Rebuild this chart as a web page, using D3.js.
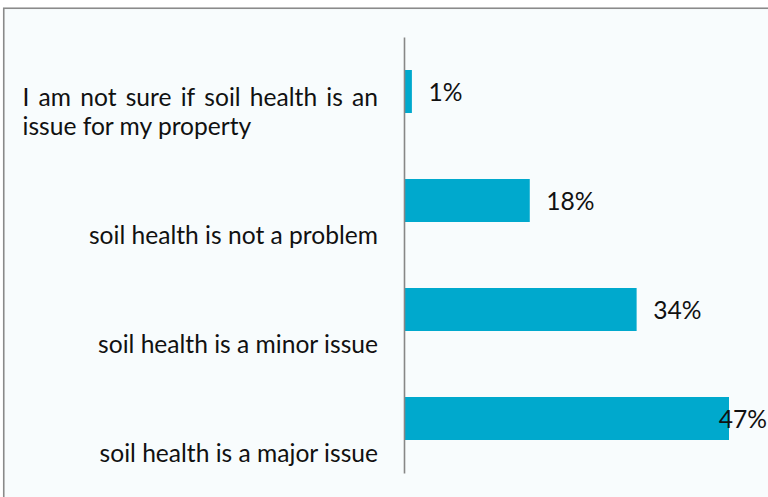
<!DOCTYPE html>
<html>
<head>
<meta charset="utf-8">
<script src="https://cdn.jsdelivr.net/npm/d3@7"></script>
<style>
  html, body { margin: 0; padding: 0; background: #ffffff; }
  svg { display: block; }
  text { font-family: Lato, "Open Sans", sans-serif; fill: #111; }
</style>
</head>
<body>
<svg id="chart" width="768" height="497"></svg>
<script>
// ---- data ----
const categories = [
  "I am not sure if soil health is an issue for my property",
  "soil health is not a problem",
  "soil health is a minor issue",
  "soil health is a major issue"
];
const values = [1, 18.1, 33.6, 47];        // percent
const valueLabels = ["1%", "18%", "34%", "47%"];

// ---- layout ----
const W = 768, H = 497;
const fontSize = 24.6;
const axisX = 404;
const svg = d3.select("#chart");

// frame / background
svg.append("rect")
  .attr("x", 3.75).attr("y", 8.25)
  .attr("width", W + 20).attr("height", H + 20)
  .attr("fill", "#f8fcfd")
  .attr("stroke", "#8a8a8a").attr("stroke-width", 1.6);

const y = d3.scaleBand()
  .domain(categories)
  .range([37, 473])
  .paddingInner(0.6055)
  .paddingOuter(0.30275);

const x = d3.scaleLinear()
  .domain([0, 47])
  .range([axisX + 1, 729]);

// bars
svg.append("g").selectAll("rect")
  .data(categories)
  .join("rect")
  .attr("x", x(0))
  .attr("y", d => y(d))
  .attr("height", y.bandwidth())
  .attr("width", (d, i) => x(values[i]) - x(0))
  .attr("fill", "#00a9cd");

// axis line (category axis, no ticks)
const yAxis = d3.axisLeft(y).tickSize(0).tickFormat("");
const gAxis = svg.append("g").attr("transform", `translate(${axisX},0)`).call(yAxis);
gAxis.select(".domain").attr("stroke", "#878787").attr("stroke-width", 1.6);

// value labels (kept inside the picture's right edge)
svg.append("g").selectAll("text")
  .data(categories)
  .join("text")
  .attr("y", d => y(d) + y.bandwidth() / 2 + 9)
  .attr("font-size", fontSize)
  .text((d, i) => valueLabels[i])
  .attr("x", function (d, i) {
    const w = this.getComputedTextLength();
    return Math.min(x(values[i]) + 16.5, W - 1 - w);
  });

// category labels: wrap into width, justify non-last lines, right-align single lines
const labelLeft = 22.5, labelRight = 378, lineH = 29.5;
const gLab = svg.append("g");
categories.forEach(cat => {
  const words = cat.split(" ");
  const maxW = labelRight - labelLeft;
  const meas = gLab.append("text").attr("font-size", fontSize);
  const wlen = s => { meas.text(s); return meas.node().getComputedTextLength(); };
  const lines = [];
  let cur = [];
  words.forEach(w => {
    const test = cur.concat([w]).join(" ");
    if (cur.length && wlen(test) > maxW) { lines.push(cur); cur = [w]; }
    else cur.push(w);
  });
  if (cur.length) lines.push(cur);
  meas.remove();
  const cy = y(cat) + y.bandwidth() / 2;
  const lastBase = cy + 43.5;
  lines.forEach((ln, li) => {
    const base = lastBase - (lines.length - 1 - li) * lineH;
    if (lines.length === 1) {
      gLab.append("text").attr("font-size", fontSize)
        .attr("x", labelRight).attr("y", base)
        .attr("text-anchor", "end").text(ln.join(" "));
    } else if (li < lines.length - 1) {
      // justified line
      const m = gLab.append("text").attr("font-size", fontSize);
      const ws = ln.map(w => { m.text(w); return m.node().getComputedTextLength(); });
      m.remove();
      const total = d3.sum(ws);
      const gap = (maxW - total) / (ln.length - 1);
      let cx = labelLeft;
      ln.forEach((w, k) => {
        gLab.append("text").attr("font-size", fontSize)
          .attr("x", cx).attr("y", base).text(w);
        cx += ws[k] + gap;
      });
    } else {
      gLab.append("text").attr("font-size", fontSize)
        .attr("x", labelLeft).attr("y", base).text(ln.join(" "));
    }
  });
});
</script>
</body>
</html>
